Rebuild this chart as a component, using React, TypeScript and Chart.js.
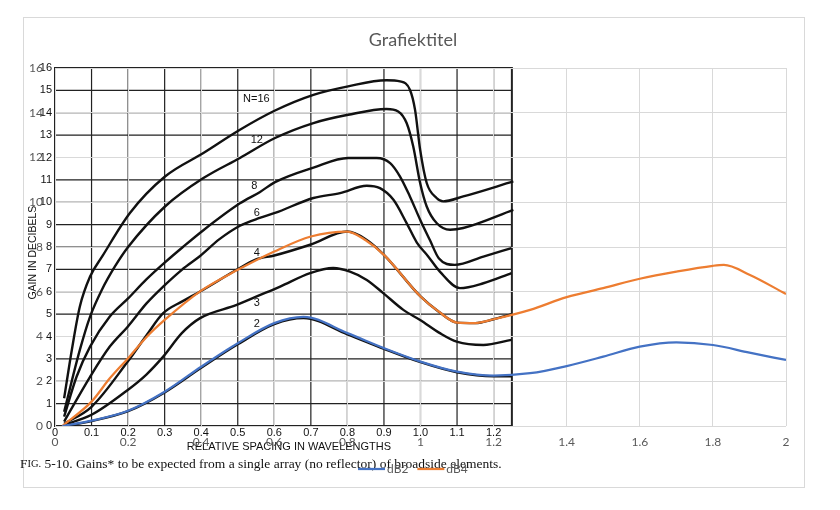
import React, { useEffect, useRef } from "react";
import { Chart, registerables } from "chart.js";
Chart.register(...registerables);

// Excel series (x = relative spacing, y = gain dB)
const DB2_X = [0.02, 0.1, 0.2, 0.3, 0.4, 0.5, 0.6, 0.68, 0.8, 0.9, 1.0, 1.1, 1.2, 1.3, 1.4, 1.5, 1.6, 1.7, 1.8, 1.9, 2.0];
const DB2_Y = [0, 0.24, 0.68, 1.53, 2.65, 3.7, 4.6, 4.88, 4.15, 3.48, 2.88, 2.43, 2.25, 2.36, 2.68, 3.1, 3.55, 3.74, 3.62, 3.28, 2.95];
const DB4_X = [0.02, 0.1, 0.15, 0.2, 0.25, 0.3, 0.4, 0.5, 0.6, 0.7, 0.8, 0.85, 0.9, 1.0, 1.05, 1.1, 1.15, 1.2, 1.3, 1.4, 1.5, 1.6, 1.7, 1.8, 1.83, 1.9, 2.0];
const DB4_Y = [0, 1.09, 2.13, 3.03, 3.97, 4.74, 6.05, 6.98, 7.8, 8.47, 8.69, 8.3, 7.65, 5.79, 5.11, 4.62, 4.6, 4.77, 5.19, 5.76, 6.16, 6.58, 6.9, 7.16, 7.2, 6.76, 5.9];
const SERIES_NAMES = ["dB2", "dB4"];

// curves of the scanned figure behind the chart
const N16: [number, number][] = [[0.025, 1.24], [0.046, 3.4], [0.068, 5.34], [0.096, 6.68], [0.13, 7.6], [0.205, 9.52], [0.301, 11.15], [0.406, 12.2], [0.506, 13.24], [0.602, 14.1], [0.707, 14.8], [0.802, 15.18], [0.907, 15.45], [0.944, 15.4], [0.971, 15.03], [0.985, 14.14], [0.999, 12.35], [1.017, 10.86], [1.044, 10.19], [1.062, 10.04], [1.117, 10.26], [1.254, 10.93]];
const N12: [number, number][] = [[0.025, 0.64], [0.068, 3.4], [0.096, 4.89], [0.128, 6.08], [0.164, 7.13], [0.2, 8.0], [0.301, 9.81], [0.406, 11.08], [0.506, 11.98], [0.602, 12.87], [0.707, 13.54], [0.802, 13.91], [0.907, 14.17], [0.939, 14.06], [0.962, 13.54], [0.98, 12.5], [0.999, 10.86], [1.017, 9.81], [1.044, 9.07], [1.081, 8.77], [1.117, 8.85], [1.254, 9.66]];
const N8: [number, number][] = [[0.025, 0.42], [0.059, 2.2], [0.096, 3.55], [0.15, 4.89], [0.2, 5.7], [0.25, 6.55], [0.3, 7.3], [0.35, 8.0], [0.406, 8.75], [0.506, 9.95], [0.56, 10.45], [0.602, 10.9], [0.707, 11.55], [0.802, 11.98], [0.88, 11.98], [0.917, 11.75], [0.944, 11.15], [0.971, 10.26], [0.999, 9.22], [1.026, 8.3], [1.05, 7.5], [1.094, 7.2], [1.172, 7.57], [1.249, 7.95]];
const N6: [number, number][] = [[0.025, 0.2], [0.096, 2.2], [0.15, 3.55], [0.199, 4.44], [0.251, 5.49], [0.296, 6.23], [0.347, 6.98], [0.397, 7.6], [0.45, 8.35], [0.506, 8.95], [0.56, 9.3], [0.602, 9.52], [0.707, 10.19], [0.78, 10.41], [0.853, 10.74], [0.889, 10.63], [0.926, 10.11], [0.962, 9.07], [0.99, 8.2], [1.02, 7.6], [1.053, 6.9], [1.108, 6.16], [1.172, 6.38], [1.249, 6.83]];
const N4: [number, number][] = [[0.025, 0.1], [0.1, 0.86], [0.199, 2.88], [0.251, 4.07], [0.296, 5.04], [0.347, 5.56], [0.397, 6.01], [0.497, 6.98], [0.55, 7.45], [0.6, 7.62], [0.698, 8.1], [0.8, 8.69], [0.85, 8.35], [0.9, 7.65], [1.0, 5.79], [1.05, 5.11], [1.1, 4.62], [1.15, 4.6], [1.2, 4.77], [1.25, 5.0]];
const N3: [number, number][] = [[0.025, 0.05], [0.1, 0.5], [0.199, 1.61], [0.25, 2.3], [0.296, 3.1], [0.347, 4.15], [0.397, 4.82], [0.497, 5.41], [0.552, 5.79], [0.616, 6.23], [0.698, 6.83], [0.761, 7.06], [0.807, 6.9], [0.853, 6.53], [0.898, 5.94], [0.953, 5.19], [0.999, 4.74], [1.053, 4.15], [1.099, 3.77], [1.172, 3.62], [1.249, 3.85]];
const N2: [number, number][] = [[0.025, 0], [0.1, 0.22], [0.2, 0.66], [0.3, 1.5], [0.4, 2.6], [0.5, 3.65], [0.6, 4.55], [0.68, 4.82], [0.8, 4.1], [0.9, 3.45], [1.0, 2.85], [1.1, 2.4], [1.2, 2.22], [1.25, 2.22]];
const SCAN_CURVES = [N16, N12, N8, N6, N4, N3, N2];

const CURVE_LABELS = ["N=16", "12", "8", "6", "4", "3", "2"];
const CURVE_LABEL_X = [0.551, 0.552, 0.545, 0.552, 0.552, 0.552, 0.552];
const CURVE_LABEL_Y = [14.63, 12.8, 10.75, 9.54, 7.75, 5.52, 4.56];

const SCAN_X_TICKS = [0, 0.1, 0.2, 0.3, 0.4, 0.5, 0.6, 0.7, 0.8, 0.9, 1.0, 1.1, 1.2];
const SCAN_X_LABELS = ["0", "0.1", "0.2", "0.3", "0.4", "0.5", "0.6", "0.7", "0.8", "0.9", "1.0", "1.1", "1.2"];
const SCAN_X_MAX = 1.25;
const SCAN_Y_TICKS = [0, 1, 2, 3, 4, 5, 6, 7, 8, 9, 10, 11, 12, 13, 14, 15, 16];

const GRAY = "#595959";
const BLUE = "#4472C4";
const ORANGE = "#ED7D31";

const scanPlugin = {
  id: "scan",
  beforeDraw(chart: any) {
    const { ctx, scales } = chart;
    const x = scales.x;
    const y = scales.y;
    ctx.save();
    ctx.fillStyle = "#fff";
    ctx.fillRect(0, 0, chart.width, chart.height);
    ctx.strokeStyle = "#d9d9d9";
    ctx.lineWidth = 1;
    ctx.strokeRect(15.5, 9.5, 781, 470);

    const x0 = x.getPixelForValue(0);
    const x1 = x.getPixelForValue(SCAN_X_MAX);
    const y0 = y.getPixelForValue(0);
    const y1 = y.getPixelForValue(16);
    ctx.strokeStyle = "#222";
    ctx.lineWidth = 1.2;
    ctx.beginPath();
    SCAN_X_TICKS.forEach((v) => {
      const p = x.getPixelForValue(v);
      ctx.moveTo(p, y0);
      ctx.lineTo(p, y1);
    });
    SCAN_Y_TICKS.forEach((v) => {
      const p = y.getPixelForValue(v);
      ctx.moveTo(x0, p);
      ctx.lineTo(x1, p);
    });
    ctx.stroke();
    ctx.lineWidth = 2;
    ctx.strokeRect(x0, y1, x1 - x0, y0 - y1);

    ctx.fillStyle = "#111";
    ctx.font = "11px 'Liberation Sans'";
    ctx.textAlign = "center";
    ctx.textBaseline = "middle";
    SCAN_X_TICKS.forEach((v, i) => ctx.fillText(SCAN_X_LABELS[i], x.getPixelForValue(v), y0 + 7));
    ctx.textAlign = "right";
    SCAN_Y_TICKS.forEach((v) => ctx.fillText(String(v), x0 - 3, y.getPixelForValue(v)));

    ctx.textAlign = "center";
    ctx.fillText("RELATIVE SPACING IN WAVELENGTHS", x.getPixelForValue(0.64), y0 + 21);
    ctx.save();
    ctx.translate(x0 - 22, y.getPixelForValue(7.75));
    ctx.rotate(-Math.PI / 2);
    ctx.font = "10.5px 'Liberation Sans'";
    ctx.fillText("GAIN IN DECIBELS", 0, 0);
    ctx.restore();

    CURVE_LABELS.forEach((t, i) =>
      ctx.fillText(t, x.getPixelForValue(CURVE_LABEL_X[i]), y.getPixelForValue(CURVE_LABEL_Y[i]))
    );

    // caption
    ctx.textAlign = "left";
    let cx = 12;
    const cy = y0 + 38;
    ctx.font = "13.5px 'Liberation Serif'";
    ctx.fillText("F", cx, cy);
    cx += ctx.measureText("F").width;
    ctx.font = "10.5px 'Liberation Serif'";
    ctx.fillText("IG.", cx, cy + 0.5);
    cx += ctx.measureText("IG.").width;
    ctx.font = "13.5px 'Liberation Serif'";
    ctx.fillText(" 5-10. Gains* to be expected from a single array (no reflector) of broadside elements.", cx, cy);
    ctx.restore();
  },
  afterDraw(chart: any) {
    const { ctx } = chart;
    ctx.save();
    ctx.fillStyle = GRAY;
    ctx.font = "18px Lato";
    ctx.textAlign = "center";
    ctx.textBaseline = "middle";
    ctx.fillText("Grafiektitel", 405, 32);

    // legend
    ctx.font = "12px Lato";
    ctx.textAlign = "left";
    let lx = 350;
    const ly = 461;
    [0, 1].forEach((i) => {
      const ds = chart.data.datasets[i];
      ctx.strokeStyle = ds.borderColor;
      ctx.lineWidth = 2.25;
      ctx.beginPath();
      ctx.moveTo(lx, ly);
      ctx.lineTo(lx + 27, ly);
      ctx.stroke();
      ctx.fillText(ds.label, lx + 29, ly);
      lx += 29 + ctx.measureText(ds.label).width + 9;
    });
    ctx.restore();
  },
};

const pts = (xs: number[], ys: number[]) => xs.map((x, i) => ({ x, y: ys[i] }));

const App: React.FC = () => {
  const canvasRef = useRef<HTMLCanvasElement | null>(null);

  useEffect(() => {
    if (!canvasRef.current) return;
    const chart = new Chart(canvasRef.current, {
      type: "line",
      data: {
        datasets: [
          {
            label: SERIES_NAMES[0],
            data: pts(DB2_X, DB2_Y),
            borderColor: BLUE,
            borderWidth: 2.25,
            pointRadius: 0,
            cubicInterpolationMode: "monotone",
          },
          {
            label: SERIES_NAMES[1],
            data: pts(DB4_X, DB4_Y),
            borderColor: ORANGE,
            borderWidth: 2.25,
            pointRadius: 0,
            cubicInterpolationMode: "monotone",
          },
          ...SCAN_CURVES.map((c, i) => ({
            label: CURVE_LABELS[i],
            data: c.map(([x, y]) => ({ x, y })),
            borderColor: "#111",
            borderWidth: 2.4,
            pointRadius: 0,
            cubicInterpolationMode: "monotone" as const,
          })),
        ],
      },
      options: {
        animation: false,
        responsive: true,
        maintainAspectRatio: false,
        layout: { padding: { top: 60, right: 46, bottom: 46, left: 0 } },
        plugins: { legend: { display: false }, title: { display: false }, tooltip: { enabled: false } },
        scales: {
          x: {
            type: "linear",
            min: 0,
            max: 2,
            ticks: {
              stepSize: 0.2,
              autoSkip: false,
              maxRotation: 0,
              padding: 9,
              color: GRAY,
              font: { family: "Lato", size: 12 },
              callback: (v: any) => String(parseFloat(Number(v).toFixed(1))),
            },
            grid: { color: "#d9d9d9", drawTicks: false },
            border: { display: false },
            afterFit: (s: any) => {
              s.height = 30;
            },
          },
          y: {
            min: 0,
            max: 16,
            ticks: {
              stepSize: 2,
              padding: 12,
              color: GRAY,
              font: { family: "Lato", size: 12 },
            },
            grid: { color: "#d9d9d9", drawTicks: false },
            border: { display: false },
            afterFit: (s: any) => {
              s.width = 47;
            },
          },
        },
      },
      plugins: [scanPlugin],
    });
    return () => chart.destroy();
  }, []);

  return (
    <div style={{ position: "relative", width: 824, height: 494 }}>
      <canvas ref={canvasRef} />
    </div>
  );
};

export default App;
